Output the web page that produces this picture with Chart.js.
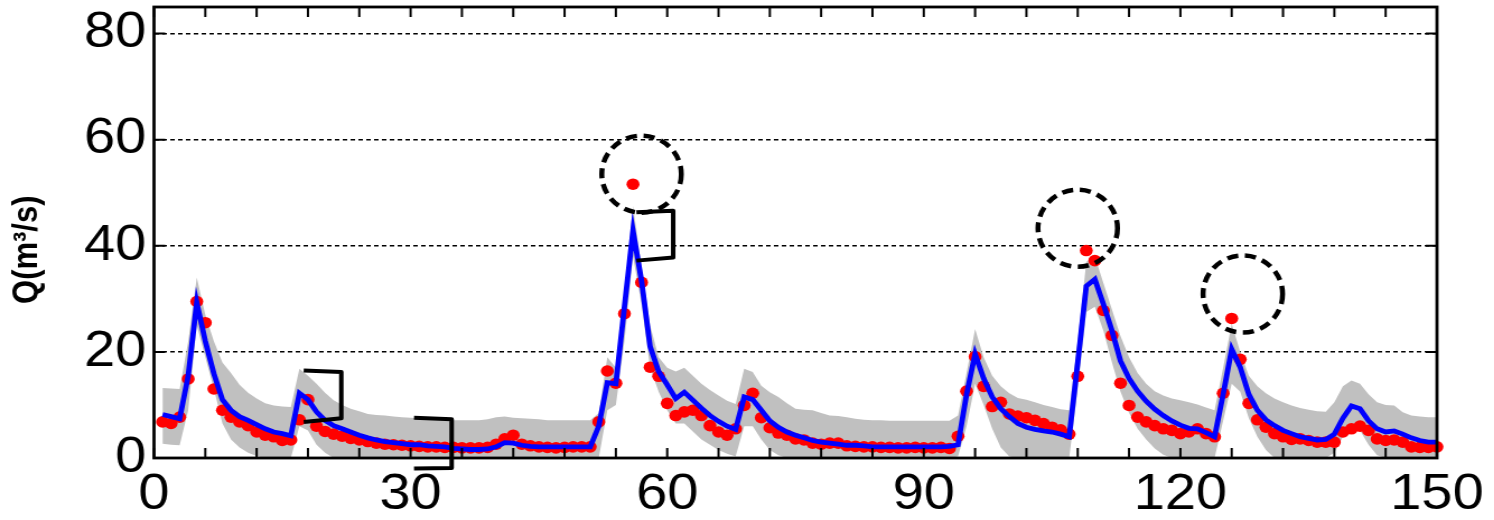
<!DOCTYPE html>
<html>
<head>
<meta charset="utf-8">
<script src="https://cdn.jsdelivr.net/npm/chart.js@4.4.0/dist/chart.umd.min.js"></script>
<style>
  html, body { margin: 0; padding: 0; background: #fff; overflow: hidden; }
  /* a figura original foi esticada na horizontal */
  #wrap { width: 1334px; height: 520px; transform: scaleX(1.12); transform-origin: 0 0; }
</style>
</head>
<body>
<div id="wrap"><canvas id="vazao"></canvas></div>
<script>
// dias 1..150
const dias = Array.from({length: 150}, (_, i) => i + 1);

const observado = [
  6.8, 6.5, 7.7, 14.9, 29.5, 25.5, 13.0, 9.0, 7.7, 6.8,
  6.1, 4.9, 4.3, 4.0, 3.3, 3.4, 7.2, 11.0, 6.0, 5.0,
  4.5, 4.1, 3.7, 3.4, 3.1, 2.8, 2.6, 2.5, 2.4, 2.3,
  2.2, 2.1, 2.1, 2.0, 2.0, 1.9, 1.9, 1.9, 2.0, 2.6,
  3.6, 4.3, 2.6, 2.3, 2.1, 2.0, 1.9, 2.0, 2.1, 2.1,
  2.1, 6.8, 16.4, 14.1, 27.2, 51.6, 33.1, 17.1, 15.4, 10.3,
  8.0, 8.7, 9.0, 8.0, 6.1, 4.9, 4.3, 5.5, 9.9, 12.2,
  7.6, 5.7, 4.7, 4.3, 3.6, 3.4, 2.8, 2.6, 2.8, 2.8,
  2.3, 2.2, 2.1, 2.1, 2.0, 2.0, 1.9, 1.9, 2.0, 1.9,
  1.9, 2.0, 1.8, 4.1, 12.6, 19.1, 13.5, 9.7, 10.5, 8.3,
  7.9, 7.6, 7.1, 6.5, 5.8, 5.3, 4.5, 15.4, 39.1, 37.2,
  27.8, 23.1, 14.1, 9.9, 7.7, 6.8, 6.1, 5.5, 5.2, 4.6,
  4.9, 5.5, 4.6, 4.0, 12.2, 26.3, 18.6, 10.3, 7.2, 5.8,
  4.6, 4.0, 3.5, 3.6, 3.3, 3.0, 3.0, 3.0, 4.9, 5.5,
  6.0, 5.2, 3.6, 3.3, 3.4, 3.0, 2.1, 2.0, 2.0, 2.1
];

const simulado = [
  8.2, 7.8, 7.4, 15.5, 29.3, 22.0, 15.9, 11.0, 9.0, 7.8,
  7.1, 6.3, 5.5, 4.9, 4.6, 4.2, 12.2, 11.0, 8.7, 7.1,
  6.1, 5.5, 4.9, 4.3, 3.8, 3.4, 3.1, 2.9, 2.7, 2.5,
  2.5, 2.3, 2.2, 2.1, 1.8, 1.7, 1.6, 1.6, 1.7, 2.1,
  2.9, 2.8, 2.4, 2.2, 2.1, 2.1, 2.1, 2.1, 2.1, 2.1,
  2.1, 6.0, 14.2, 14.0, 28.5, 42.8, 33.4, 21.0, 16.3, 13.8,
  11.2, 12.4, 10.9, 9.4, 8.0, 6.9, 6.0, 5.4, 11.5, 11.0,
  9.0, 7.0, 5.8, 4.9, 4.3, 3.8, 3.3, 3.0, 2.8, 2.6,
  2.4, 2.4, 2.3, 2.1, 2.1, 2.1, 2.1, 2.1, 2.1, 2.1,
  2.1, 2.1, 2.2, 2.5, 12.0, 19.6, 15.0, 11.5, 9.3, 7.8,
  6.5, 5.8, 5.4, 5.1, 4.9, 4.5, 4.0, 18.0, 32.4, 33.7,
  29.0, 24.0, 18.3, 15.0, 12.6, 10.7, 9.2, 8.0, 7.0, 6.2,
  5.6, 5.5, 4.8, 4.0, 12.0, 20.5, 17.1, 12.0, 9.0, 7.2,
  6.1, 5.2, 4.6, 4.0, 3.7, 3.4, 3.5, 4.5, 7.5, 9.8,
  9.3, 7.0, 5.5, 4.9, 5.1, 4.5, 3.8, 3.3, 3.0, 3.0
];

const bandaSup = [
  13.2, 13.1, 13.0, 22.0, 34.0, 27.0, 22.0, 18.0, 16.0, 13.8,
  12.3, 11.2, 10.3, 9.9, 9.7, 9.6, 16.8, 15.5, 14.0, 12.3,
  10.9, 10.0, 9.3, 8.8, 8.3, 8.1, 8.0, 7.8, 7.7, 7.6,
  7.5, 7.4, 7.3, 7.2, 7.1, 7.1, 7.1, 7.1, 7.3, 7.7,
  7.8, 7.6, 7.5, 7.4, 7.3, 7.1, 7.1, 7.1, 7.1, 7.1,
  7.1, 8.5, 19.0, 17.0, 31.0, 47.5, 36.0, 25.0, 19.0, 17.0,
  16.3, 17.0, 15.5, 14.0, 12.8, 11.8, 10.8, 10.2, 16.8, 16.2,
  13.6, 12.4, 11.5, 10.3, 9.3, 9.1, 9.0, 8.5, 8.0, 7.9,
  7.7, 7.4, 7.2, 7.1, 7.1, 7.0, 7.0, 7.0, 7.0, 7.0,
  7.0, 7.0, 7.0, 8.0, 16.0, 24.3, 19.0, 15.5, 13.5, 12.2,
  11.3, 11.0, 10.5, 10.0, 9.6, 9.2, 9.0, 22.0, 37.0, 38.0,
  33.0, 28.0, 23.0, 19.0, 16.0, 14.0, 12.6, 11.8, 11.2, 10.9,
  10.5, 10.1, 9.5, 9.0, 17.0, 25.3, 20.0, 15.5, 13.5, 12.2,
  11.2, 10.5, 9.9, 9.4, 9.1, 8.8, 8.7, 10.5, 13.5, 14.6,
  14.0, 12.0, 10.5, 10.0, 9.9, 8.6, 8.0, 7.8, 7.7, 7.7
];

const bandaInf = [
  2.7, 2.5, 2.4, 9.0, 25.0, 19.0, 13.0, 6.5, 3.5, 2.0,
  1.0, 0.4, 0, 0, 0, 0, 6.0, 5.2, 2.5, 1.0,
  0, 0, 0, 0, 0, 0, 0, 0, 0, 0,
  0, 0, 0, 0, 0, 0, 0, 0, 0, 0,
  0, 0, 0, 0, 0, 0, 0, 0, 0, 0,
  0, 0, 9.0, 10.0, 22.0, 38.0, 29.0, 17.0, 12.5, 9.0,
  6.5, 6.5, 5.0, 3.5, 2.5, 1.5, 0.8, 0.3, 6.0, 6.0,
  3.5, 1.5, 0.5, 0, 0, 0, 0, 0, 0, 0,
  0, 0, 0, 0, 0, 0, 0, 0, 0, 0,
  0, 0, 0, 0.3, 6.0, 14.0, 10.0, 5.5, 2.0, 0.3,
  0, 0, 0, 0, 0, 0, 0, 13.0, 27.5, 28.5,
  24.0, 18.0, 12.5, 8.5, 5.5, 3.5, 1.8, 0.6, 0, 0,
  0, 0, 0, 0, 7.0, 14.0, 12.5, 7.5, 4.0, 1.5,
  0, 0, 0, 0, 0, 0, 0, 1.0, 4.0, 5.8,
  5.2, 2.5, 0.5, 0, 0, 0, 0, 0, 0, 0
];

const xRotulos = [0, 30, 60, 90, 120, 150];
const yRotulos = [0, 20, 40, 60, 80];

// picos destacados (dia, Q) e colchetes (dia, Q)
const circulos = [[57, 53.5], [108, 43.3], [127.3, 30.9]];
const colchetes = [
  [[17.5, 16.5], [21.9, 16.2], [21.9, 7.5], [17.5, 6.8]],
  [[30.4, 7.6], [34.8, 7.3], [34.8, -1.9], [30.4, -2.0]],
  [[56.4, 46.3], [60.7, 46.6], [60.7, 37.8], [56.4, 37.2]]
];

const fonte = 'Liberation Sans, Arial, sans-serif';
const serie = vals => dias.map((d, i) => ({x: d, y: vals[i]}));

const moldura = {
  id: 'moldura',
  afterDatasetsDraw(chart) {
    const {ctx, chartArea: a, scales: {x, y}} = chart;
    ctx.save();
    ctx.strokeStyle = '#000';
    ctx.lineWidth = 2;
    ctx.beginPath();
    x.ticks.forEach(t => {
      const px = x.getPixelForValue(t.value);
      ctx.moveTo(px, a.bottom); ctx.lineTo(px, a.bottom - 10);
      ctx.moveTo(px, a.top); ctx.lineTo(px, a.top + 10);
    });
    y.ticks.forEach(t => {
      const py = y.getPixelForValue(t.value);
      ctx.moveTo(a.left, py); ctx.lineTo(a.left + 10, py);
      ctx.moveTo(a.right, py); ctx.lineTo(a.right - 10, py);
    });
    ctx.stroke();

    ctx.lineWidth = 2.8;
    ctx.strokeRect(a.left, a.top, a.width, a.height);

    ctx.lineWidth = 4.5;
    ctx.setLineDash([10, 6]);
    circulos.forEach(([d, q]) => {
      ctx.beginPath();
      ctx.ellipse(x.getPixelForValue(d), y.getPixelForValue(q), 35.5, 38.5, 0, 0, Math.PI * 2);
      ctx.stroke();
    });
    ctx.setLineDash([]);

    ctx.lineWidth = 4;
    ctx.lineJoin = 'round';
    colchetes.forEach(pts => {
      ctx.beginPath();
      pts.forEach(([d, q], i) => {
        const px = x.getPixelForValue(d), py = y.getPixelForValue(q);
        if (i === 0) ctx.moveTo(px, py); else ctx.lineTo(px, py);
      });
      ctx.stroke();
    });
    ctx.restore();
  }
};

new Chart(document.getElementById('vazao'), {
  type: 'line',
  data: {
    datasets: [
      {
        label: 'Simulado',
        data: serie(simulado),
        borderColor: '#0000ff',
        borderWidth: 4.8,
        pointRadius: 0,
        fill: false,
        tension: 0
      },
      {
        label: 'Observado',
        data: serie(observado),
        showLine: false,
        pointRadius: 5.8,
        pointBackgroundColor: '#ff0000',
        pointBorderWidth: 0,
        clip: false
      },
      {
        label: 'Limite superior',
        data: serie(bandaSup),
        borderWidth: 0,
        pointRadius: 0,
        backgroundColor: '#c0c0c0',
        fill: '+1'
      },
      {
        label: 'Limite inferior',
        data: serie(bandaInf),
        borderWidth: 0,
        pointRadius: 0,
        fill: false
      }
    ]
  },
  options: {
    responsive: true,
    maintainAspectRatio: false,
    animation: false,
    layout: { padding: { top: 7, right: 51, left: 0, bottom: 0 } },
    plugins: {
      legend: { display: false },
      tooltip: { enabled: false }
    },
    scales: {
      x: {
        type: 'linear',
        min: 0,
        max: 150,
        grid: { display: false, drawTicks: false },
        border: { display: false },
        ticks: {
          stepSize: 6,
          autoSkip: false,
          maxRotation: 0,
          padding: 7,
          color: '#000',
          font: { family: fonte, size: 50 },
          callback: v => xRotulos.includes(v) ? v : ''
        },
        afterFit: s => { s.height = 62; s.paddingLeft = 0; s.paddingRight = 0; }
      },
      y: {
        min: 0,
        max: 85,
        grid: {
          drawTicks: false,
          lineWidth: 1.4,
          color: c => (c.tick && c.tick.value > 0 && yRotulos.includes(c.tick.value)) ? '#000' : 'rgba(0,0,0,0)'
        },
        border: { display: false, dash: [4, 3] },
        ticks: {
          stepSize: 10,
          includeBounds: false,
          padding: 7,
          color: '#000',
          font: { family: fonte, size: 50 },
          callback: v => yRotulos.includes(v) ? v : ''
        },
        title: {
          display: true,
          text: 'Q(m³/s)    ',
          color: '#000',
          font: { family: fonte, size: 31, weight: 'bold' },
          padding: { top: 6, bottom: 0 }
        },
        afterFit: s => { s.width = 137.5; s.paddingTop = 0; s.paddingBottom = 0; }
      }
    }
  },
  plugins: [moldura]
});
</script>
</body>
</html>
